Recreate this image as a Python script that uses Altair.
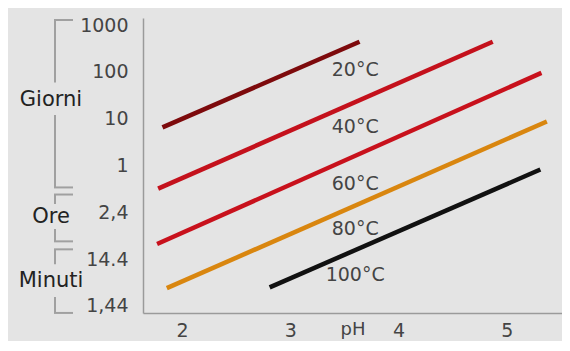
import altair as alt
import pandas as pd

# Curves (straight lines on log scale): temperature, pH range and time (days)
series = ["20°C", "40°C", "60°C", "80°C", "100°C"]
ph_start = [1.82, 1.78, 1.77, 1.86, 2.81]
ph_end = [3.64, 4.87, 5.32, 5.37, 5.31]
days_start = [6.5, 0.32, 0.021, 0.0024, 0.0025]
days_end = [440, 440, 95, 8.7, 0.82]
colors = ["#7d0a0c", "#c4111c", "#c8111c", "#d9860f", "#111111"]
label_ph = [3.6, 3.6, 3.6, 3.6, 3.6]
label_days = [110, 6.5, 0.40, 0.044, 0.0046]

# y-axis ticks (days) and their labels
tick_values = [1000, 100, 10, 1, 0.1, 0.01, 0.001]
tick_labels = ["1000", "100", "10", "1", "2,4", "14.4", "1,44"]
x_ticks = [2, 3, 4, 5]

# Unit brackets on the left (values in days)
bracket_names = ["Giorni", "Ore", "Minuti"]
bracket_top = [1280, 0.24, 0.0162]
bracket_gap_top = [59, 0.15, 0.0078]
bracket_gap_bottom = [12, 0.044, 0.00155]
bracket_bottom = [0.34, 0.024, 0.00071]
bracket_label_at = [25, 0.079, 0.0034]

lines = pd.DataFrame({
    "serie": series, "ph0": ph_start, "ph1": ph_end,
    "d0": days_start, "d1": days_end,
    "lph": label_ph, "ld": label_days,
})
br = pd.DataFrame({
    "name": bracket_names, "top": bracket_top, "gt": bracket_gap_top,
    "gb": bracket_gap_bottom, "bot": bracket_bottom, "lab": bracket_label_at,
})
br_ticks = pd.DataFrame({"v": bracket_top + bracket_bottom})

FONT = "DejaVu Sans"
xs = alt.Scale(domain=[1.64, 5.51], nice=False, zero=False)
ys = alt.Scale(type="log", domain=[10 ** -3.15, 10 ** 3.15], nice=False)

label_expr = " : ".join(
    f"datum.value == {v} ? '{l}'" for v, l in zip(tick_values, tick_labels)
) + " : ''"

base = alt.Chart(lines)

curves = base.mark_rule(strokeWidth=4.5, strokeCap="butt").encode(
    x=alt.X("ph0:Q", scale=xs, axis=alt.Axis(
        values=x_ticks, format="d", title="pH", grid=False, ticks=False, tickSize=0,
        labelPadding=8, titleY=16, titleBaseline="middle",
        domainColor="#9a9a9a", domainWidth=1.5,
        labelFontSize=19, titleFontSize=18, labelColor="#444", titleColor="#444",
        labelFont=FONT, titleFont=FONT, titleFontWeight="normal")),
    x2="ph1:Q",
    y=alt.Y("d0:Q", scale=ys, axis=alt.Axis(
        values=tick_values, labelExpr=label_expr, title=None, grid=False,
        ticks=False, tickSize=0, labelPadding=15, domainColor="#9a9a9a",
        domainWidth=1.5, labelFontSize=19, labelColor="#444", labelFont=FONT)),
    y2="d1:Q",
    color=alt.Color("serie:N", scale=alt.Scale(domain=series, range=colors), legend=None),
)

texts = base.mark_text(font=FONT, fontSize=19, color="#444", align="center",
                       baseline="middle").encode(
    x=alt.X("lph:Q", scale=xs), y=alt.Y("ld:Q", scale=ys), text="serie:N")

bchart = alt.Chart(br)
b_up = bchart.mark_rule(color="#a0a0a0", strokeWidth=2).encode(
    x=alt.value(-88), y=alt.Y("top:Q", scale=ys), y2="gt:Q")
b_down = bchart.mark_rule(color="#a0a0a0", strokeWidth=2).encode(
    x=alt.value(-88), y=alt.Y("gb:Q", scale=ys), y2="bot:Q")
b_text = bchart.mark_text(font=FONT, fontSize=21, color="#222", align="center",
                          baseline="middle").encode(
    x=alt.value(-92), y=alt.Y("lab:Q", scale=ys), text="name:N")
b_ticks = alt.Chart(br_ticks).mark_rule(color="#a0a0a0", strokeWidth=2).encode(
    x=alt.value(-89), x2=alt.value(-70), y=alt.Y("v:Q", scale=ys))

chart = alt.layer(curves, texts, b_up, b_down, b_ticks, b_text).properties(
    width=419, height=295,
    autosize=alt.AutoSizeParams(type="none"),
    padding={"left": 135, "top": 10, "right": 0, "bottom": 28},
    background="#e4e4e4",
).configure_view(strokeWidth=0)

chart.save("out.html", embed_options={"renderer": "svg", "actions": False})
